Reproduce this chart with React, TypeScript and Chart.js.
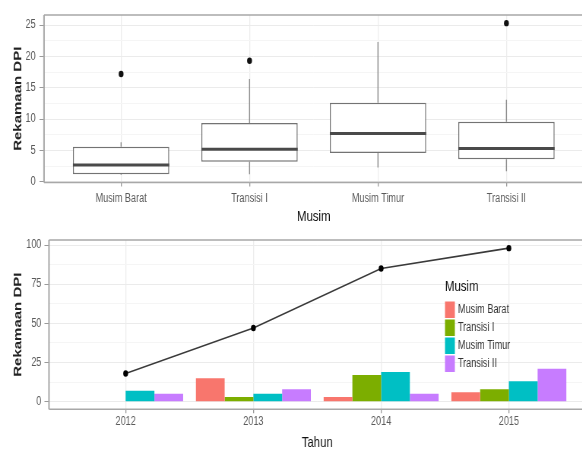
import React, { useEffect, useRef } from 'react';
import { Chart, registerables } from 'chart.js';

Chart.register(...registerables);

// ---------- data: top panel (boxplot per season) ----------
const SEASONS = ['Musim Barat', 'Transisi I', 'Musim Timur', 'Transisi II'];
const BOX_LOWER = [1.1, 1.2, 2.3, 1.7];
const BOX_Q1 = [1.2, 3.2, 4.6, 3.6];
const BOX_MEDIAN = [2.7, 5.2, 7.7, 5.3];
const BOX_Q3 = [5.6, 9.4, 12.6, 9.6];
const BOX_UPPER = [6.3, 16.4, 22.3, 13.1];
const OUTLIERS = [[17.2], [19.3], [], [25.3]];
const TOP_Y_TICKS = [0, 5, 10, 15, 20, 25];

// ---------- data: bottom panel (bars per season + total line) ----------
const YEARS = ['2012', '2013', '2014', '2015'];
const MUSIM_BARAT = [0, 15, 3, 6];
const TRANSISI_I = [0, 3, 17, 8];
const MUSIM_TIMUR = [7, 5, 19, 13];
const TRANSISI_II = [5, 8, 5, 21];
const TOTAL = [18, 47, 85, 98];
const BOTTOM_Y_TICKS = [0, 25, 50, 75, 100];
const SEASON_COLORS = ['#F8766D', '#7CAE00', '#00BFC4', '#C77CFF'];
const SEASON_SERIES = [MUSIM_BARAT, TRANSISI_I, MUSIM_TIMUR, TRANSISI_II];

// ---------- styling ----------
const S = 0.76; // horizontal squeeze of the reference picture
const W = 790;
const FONT = "'Liberation Sans', Arial, sans-serif";
const TICK_COLOR = '#5A5A5A';
const FRAME = '#A8A8A8';

function withMinor(majors: number[]) {
  const out: number[] = [];
  majors.forEach((v, i) => {
    out.push(v);
    if (i < majors.length - 1) out.push((v + majors[i + 1]) / 2);
  });
  return out;
}

const framePlugin = {
  id: 'frame',
  afterDraw(chart: any) {
    const { ctx, chartArea: a } = chart;
    ctx.save();
    ctx.strokeStyle = FRAME;
    ctx.lineWidth = 1.5;
    ctx.beginPath();
    ctx.moveTo(a.left, a.top);
    ctx.lineTo(a.right, a.top);
    ctx.moveTo(a.left, a.bottom);
    ctx.lineTo(a.right, a.bottom);
    ctx.stroke();
    ctx.lineWidth = 2;
    ctx.beginPath();
    ctx.moveTo(a.left, a.top);
    ctx.lineTo(a.left, a.bottom);
    ctx.moveTo(a.right, a.top);
    ctx.lineTo(a.right, a.bottom);
    ctx.stroke();
    ctx.restore();
  },
};

const boxPartsPlugin = {
  id: 'boxParts',
  beforeDatasetsDraw(chart: any) {
    const meta = chart.getDatasetMeta(0);
    const y = chart.scales.y;
    const ctx = chart.ctx;
    ctx.save();
    ctx.strokeStyle = '#8C8C8C';
    ctx.lineWidth = 1.4;
    meta.data.forEach((bar: any, i: number) => {
      ctx.beginPath();
      ctx.moveTo(bar.x, y.getPixelForValue(BOX_UPPER[i]));
      ctx.lineTo(bar.x, y.getPixelForValue(BOX_Q3[i]));
      ctx.moveTo(bar.x, y.getPixelForValue(BOX_Q1[i]));
      ctx.lineTo(bar.x, y.getPixelForValue(BOX_LOWER[i]));
      ctx.stroke();
    });
    ctx.restore();
  },
  afterDatasetsDraw(chart: any) {
    const meta = chart.getDatasetMeta(0);
    const y = chart.scales.y;
    const ctx = chart.ctx;
    ctx.save();
    ctx.strokeStyle = '#4A4A4A';
    ctx.lineWidth = 3;
    meta.data.forEach((bar: any, i: number) => {
      const py = y.getPixelForValue(BOX_MEDIAN[i]);
      ctx.beginPath();
      ctx.moveTo(bar.x - bar.width / 2, py);
      ctx.lineTo(bar.x + bar.width / 2, py);
      ctx.stroke();
    });
    ctx.restore();
  },
};

const legendPlugin = {
  id: 'seasonLegend',
  afterDraw(chart: any) {
    const { ctx, chartArea: a } = chart;
    const left = a.left + 521;
    ctx.save();
    ctx.fillStyle = '#111';
    ctx.font = `15px ${FONT}`;
    ctx.textBaseline = 'middle';
    ctx.textAlign = 'left';
    ctx.fillText('Musim', left, a.top + 47);
    ctx.font = `12px ${FONT}`;
    SEASONS.forEach((name, i) => {
      const top = a.top + 61.5 + i * 18;
      ctx.fillStyle = SEASON_COLORS[i];
      ctx.fillRect(left, top, 13, 16.5);
      ctx.fillStyle = '#333';
      ctx.fillText(name, left + 17, top + 8.5);
    });
    ctx.restore();
  },
};

function yAxis(majors: number[], min: number, max: number, width: number, pad: number) {
  return {
    type: 'linear' as const,
    min,
    max,
    afterBuildTicks: (s: any) => {
      s.ticks = withMinor(majors).map((v) => ({ value: v }));
    },
    afterFit: (s: any) => {
      s.width = width;
    },
    ticks: {
      callback: (v: any) => (majors.includes(v) ? String(v) : ''),
      font: { family: FONT, size: 12 },
      color: TICK_COLOR,
      padding: pad,
      autoSkip: false,
    },
    grid: {
      color: (c: any) => (majors.includes(c.tick?.value) ? '#EBEBEB' : '#F5F5F5'),
      tickColor: (c: any) => (majors.includes(c.tick?.value) ? '#9A9A9A' : 'rgba(0,0,0,0)'),
      tickLength: 6,
      lineWidth: 1,
    },
    border: { display: false },
    title: {
      display: true,
      text: 'Rekamaan DPI',
      font: { family: FONT, size: 15, weight: 'bold' },
      color: '#222',
      padding: { top: 14.5, bottom: 0 },
    },
  };
}

function xAxis(labels: string[], height: number, pad: number, title: string) {
  return {
    type: 'linear' as const,
    min: 0.4,
    max: labels.length + 0.6,
    offset: false,
    afterBuildTicks: (s: any) => {
      s.ticks = labels.map((_, i) => ({ value: i + 1 }));
    },
    afterFit: (s: any) => {
      s.height = height;
    },
    ticks: {
      callback: (v: any) => labels[v - 1] ?? '',
      font: { family: FONT, size: 12 },
      color: TICK_COLOR,
      padding: pad,
      autoSkip: false,
      maxRotation: 0,
      minRotation: 0,
    },
    grid: {
      offset: false,
      color: '#EDEDED',
      tickColor: '#9A9A9A',
      tickLength: 4,
      lineWidth: 1.3,
    },
    border: { display: false },
    title: {
      display: true,
      text: title,
      font: { family: FONT, size: 15 },
      color: '#111',
      padding: { top: 0, bottom: 0.5 },
    },
  };
}

function topConfig(): any {
  return {
    type: 'bar',
    data: {
      datasets: [
        {
          type: 'bar',
          data: SEASONS.map((_, i) => ({ x: i + 1, y: [BOX_Q1[i], BOX_Q3[i]] })),
          backgroundColor: '#FFFFFF',
          borderColor: '#737373',
          borderWidth: 1.5,
          borderSkipped: false,
          barPercentage: 0.75,
          categoryPercentage: 1,
          grouped: false,
        },
        {
          type: 'scatter',
          data: OUTLIERS.flatMap((arr, i) => arr.map((v) => ({ x: i + 1, y: v }))),
          pointRadius: 3.2,
          pointBackgroundColor: '#111',
          pointBorderWidth: 0,
        },
      ],
    },
    options: {
      animation: false,
      responsive: false,
      layout: { padding: { left: 0, top: 15, right: W - 583.5 / S, bottom: 0 } },
      plugins: { legend: { display: false }, tooltip: { enabled: false } },
      scales: {
        x: xAxis(SEASONS, 226 - 182.5, 5.3, 'Musim'),
        y: yAxis(TOP_Y_TICKS, -0.1, 26.6, 44 / S, 5),
      },
    },
    plugins: [boxPartsPlugin, framePlugin],
  };
}

function bottomConfig(): any {
  return {
    type: 'bar',
    data: {
      datasets: [
        {
          type: 'line',
          data: YEARS.map((_, i) => ({ x: i + 1, y: TOTAL[i] })),
          borderColor: '#3A3A3A',
          borderWidth: 1.7,
          pointRadius: 3.2,
          pointBackgroundColor: '#000',
          pointBorderWidth: 0,
          order: 0,
        },
        ...SEASONS.map((name, k) => ({
          type: 'bar',
          label: name,
          data: YEARS.map((_, i) => ({ x: i + 1, y: SEASON_SERIES[k][i] })),
          backgroundColor: SEASON_COLORS[k],
          borderWidth: 0,
          barPercentage: 1,
          categoryPercentage: 0.9,
          order: 1,
        })),
      ],
    },
    options: {
      animation: false,
      responsive: false,
      layout: { padding: { left: 0, top: 20, right: W - 585.5 / S, bottom: 0 } },
      plugins: { legend: { display: false }, tooltip: { enabled: false } },
      scales: {
        x: xAxis(YEARS, 232 - 189.3, 1.5, 'Tahun'),
        y: yAxis(BOTTOM_Y_TICKS, -4.85, 103.2, 49 / S, 4),
      },
    },
    plugins: [framePlugin, legendPlugin],
  };
}

export default function App() {
  const topRef = useRef<HTMLCanvasElement>(null);
  const bottomRef = useRef<HTMLCanvasElement>(null);

  useEffect(() => {
    const top = new Chart(topRef.current as HTMLCanvasElement, topConfig());
    const bottom = new Chart(bottomRef.current as HTMLCanvasElement, bottomConfig());
    return () => {
      top.destroy();
      bottom.destroy();
    };
  }, []);

  const canvasStyle = (topPx: number): React.CSSProperties => ({
    position: 'absolute',
    left: 0,
    top: topPx,
    transform: `scaleX(${S})`,
    transformOrigin: '0 0',
  });

  return (
    <div
      style={{
        position: 'absolute',
        left: 0,
        top: 0,
        width: 582,
        height: 450,
        overflow: 'hidden',
        background: '#FFFFFF',
      }}
    >
      <canvas ref={topRef} width={W} height={226} style={canvasStyle(0)} />
      <canvas ref={bottomRef} width={W} height={232} style={canvasStyle(220)} />
    </div>
  );
}
